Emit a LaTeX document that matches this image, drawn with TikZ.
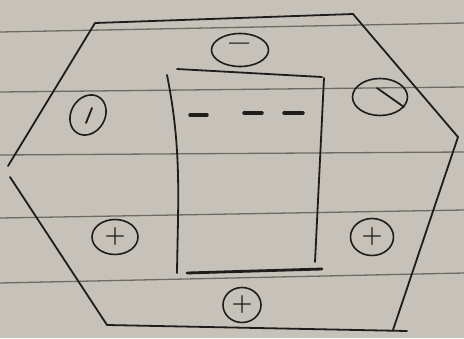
\documentclass[tikz,border=0pt]{standalone}
\usetikzlibrary{shapes.geometric}
\definecolor{paper}{RGB}{198,194,186}
\definecolor{rule}{RGB}{110,107,102}
\definecolor{ink}{RGB}{30,29,28}
\begin{document}
\begin{tikzpicture}[x=1pt,y=-1pt,
  pen/.style={draw=ink,line width=1.8pt,line cap=round,line join=round},
  paperline/.style={draw=rule,line width=1.3pt},
  charge/.style={ellipse,draw=ink,line width=1.6pt,inner sep=0pt,text=ink,font=\fontsize{24}{24}\selectfont\bfseries},
  dashmark/.style={draw=ink,line width=3.5pt,line cap=round}]
\fill[paper] (0,0) rectangle (464,338);
\useasboundingbox (0,0) rectangle (464,338);
% ruled paper lines
\draw[paperline] (0,32) -- (464,23);
\draw[paperline] (0,92) -- (464,87);
\draw[paperline] (0,155) -- (464,152);
\draw[paperline] (0,218) -- (464,210);
\draw[paperline] (0,283) -- (464,273);
% hexagon
\coordinate (tl) at (95,23);
\coordinate (tr) at (353,14);
\coordinate (r) at (458,137);
\coordinate (br) at (393,330);
\coordinate (bre) at (407,331);
\coordinate (bl) at (107,325);
\coordinate (l) at (8,166);
\coordinate (l2) at (10,177);
\draw[pen] (l) -- (tl) -- (tr) -- (r) -- (br);
\draw[pen] (l2) -- (bl) -- (bre);
% inner box
\coordinate (bt1) at (177,69);
\coordinate (bt2) at (322,77);
\coordinate (bl1) at (167,75);
\coordinate (bl2) at (177,273);
\coordinate (br1) at (324,78);
\coordinate (br2) at (315,262);
\coordinate (bb1) at (187,273);
\coordinate (bb2) at (322,269);
\draw[pen] (bt1) -- (bt2);
\draw[pen] (bl1) .. controls (182,150) and (178,200) .. (bl2);
\draw[pen] (br1) -- (br2);
\draw[pen,line width=2.8pt] (bb1) -- (bb2);
% dashes
\draw[dashmark] (190,115) -- (207,115);
\draw[dashmark] (244,113) -- (262,113);
\draw[dashmark] (284,113) -- (303,113);
% charges
\node[charge,minimum width=57pt,minimum height=33pt,font=\fontsize{36}{36}\selectfont\bfseries] (ctop) at (240,50) {\raisebox{3pt}{--}};
\node[charge,minimum width=34pt,minimum height=42pt,rotate=-30] (cleft) at (88,115) {};
\draw[pen,line width=1.8pt] (92,108) -- (86,123);
\node[charge,minimum width=55pt,minimum height=37pt] (cright) at (380,97) {};
\draw[pen,line width=1.8pt] (377,88) -- (404,107);
\node[charge,minimum width=46pt,minimum height=35pt] (cpl) at (115,237) {+};
\node[charge,minimum width=43pt,minimum height=37pt] (cpr) at (372,237) {+};
\node[charge,minimum width=38pt,minimum height=35pt] (cpb) at (242,305) {+};
\end{tikzpicture}
\end{document}
